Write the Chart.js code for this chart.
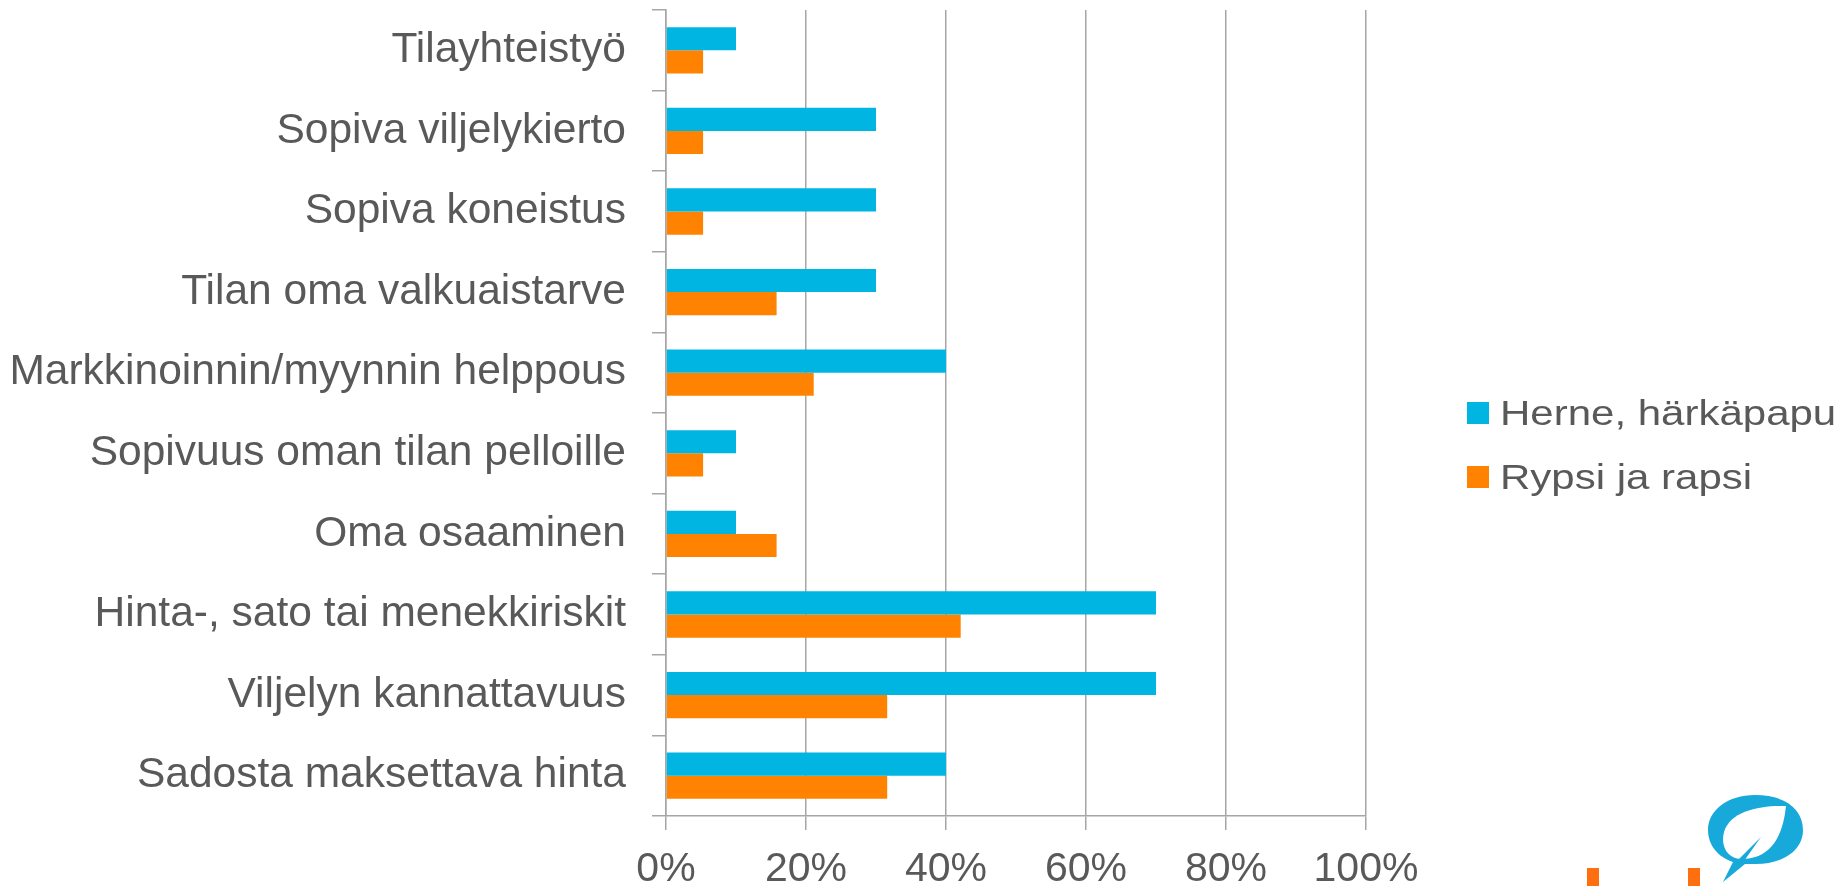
<!DOCTYPE html>
<html>
<head>
<meta charset="utf-8">
<script src="https://cdn.jsdelivr.net/npm/chart.js@4/dist/chart.umd.min.js"></script>
<style>
  html, body { margin: 0; padding: 0; background: #fff; }
  #wrap { position: relative; width: 1846px; height: 886px; overflow: hidden; }
  #logo { position: absolute; left: 0; top: 0; pointer-events: none; }
  #legend { position: absolute; left: 1467px; top: 393px; font-family: 'Liberation Sans', Arial, sans-serif; color: #595959; }
  #legend .item { height: 64px; white-space: nowrap; }
  #legend .sw { display: inline-block; width: 22px; height: 22px; vertical-align: top; margin-top: 9px; }
  #legend .tx { display: inline-block; font-size: 35px; line-height: 40px; margin-left: 11px; transform: scaleX(1.2); transform-origin: left center; vertical-align: top; }
</style>
</head>
<body>
<div id="wrap">
  <canvas id="chart-syyt" width="1846" height="886"></canvas>
  <div id="legend"></div>
  <svg id="logo" width="1846" height="886">
    <rect x="1587" y="868" width="12" height="18" fill="#FF6F0F"/>
    <rect x="1688" y="868" width="12" height="18" fill="#FF6F0F"/>
    <path d="M1755 795 C1785 795 1803 809 1803 830 C1803 851 1782 864 1756 864 L1745 864 L1723 882 L1733 862 C1718 857 1708 845 1708 830 C1708 810 1728 795 1755 795 Z" fill="#18A9DB"/>
    <path d="M1786 806 C1760 805 1730 811 1724 832 C1720 848 1729 859 1742 859 C1771 859 1783 836 1786 806 Z" fill="#fff"/>
    <path d="M1761 837 L1737 861 L1744 861 Z" fill="#18A9DB"/>
  </svg>
</div>
<script>
(function(){
  "use strict";

  var categories = [
    "Tilayhteistyö",
    "Sopiva viljelykierto",
    "Sopiva koneistus",
    "Tilan oma valkuaistarve",
    "Markkinoinnin/myynnin helppous",
    "Sopivuus oman tilan pelloille",
    "Oma osaaminen",
    "Hinta-, sato tai menekkiriskit",
    "Viljelyn kannattavuus",
    "Sadosta maksettava hinta"
  ];
  var herne = [10, 30, 30, 30, 40, 10, 10, 70, 70, 40];
  var rypsi = [5.3, 5.3, 5.3, 15.8, 21.1, 5.3, 15.8, 42.1, 31.6, 31.6];
  var xTicks = [0, 20, 40, 60, 80, 100];

  var textColor = "#595959";
  var gridColor = "#A6A6A6";

  Chart.defaults.font.family = "'Liberation Sans', Arial, sans-serif";
  Chart.defaults.color = textColor;

  var chart = new Chart(document.getElementById("chart-syyt"), {
    type: "bar",
    data: {
      labels: categories,
      datasets: [{
        label: "Herne, härkäpapu",
        data: herne,
        backgroundColor: "#00B5E2",
        categoryPercentage: 0.575,
        barPercentage: 1
      }, {
        label: "Rypsi ja rapsi",
        data: rypsi,
        backgroundColor: "#FF8300",
        categoryPercentage: 0.575,
        barPercentage: 1
      }]
    },
    options: {
      indexAxis: "y",
      responsive: false,
      animation: false,
      layout: { padding: { top: 10, right: 480, left: 0, bottom: 0 } },
      plugins: {
        tooltip: { enabled: false },
        legend: { display: false }
      },
      scales: {
        x: {
          min: 0, max: 100,
          afterBuildTicks: function(axis){
            axis.ticks = xTicks.map(function(v){ return { value: v }; });
          },
          afterFit: function(scale){ scale.height = 70; },
          ticks: {
            font: { size: 41 },
            color: textColor,
            padding: 15,
            callback: function(v){ return v + "%"; }
          },
          grid: { color: gridColor, lineWidth: 1.5, tickLength: 14 },
          border: { color: gridColor, width: 1.5 }
        },
        y: {
          afterFit: function(scale){
            scale.width = 666;
            scale.paddingTop = 0;
            scale.paddingBottom = 0;
          },
          ticks: { font: { size: 42.5 }, color: textColor, padding: 26 },
          grid: { drawOnChartArea: false, color: gridColor, lineWidth: 1.5, tickLength: 14, offset: true },
          border: { color: gridColor, width: 1.5 }
        }
      }
    }
  });

  // legend built from the chart's own datasets
  var leg = document.getElementById("legend");
  chart.data.datasets.forEach(function(ds){
    var row = document.createElement("div");
    row.className = "item";
    var sw = document.createElement("span");
    sw.className = "sw";
    sw.style.background = ds.backgroundColor;
    var tx = document.createElement("span");
    tx.className = "tx";
    tx.textContent = ds.label;
    row.appendChild(sw);
    row.appendChild(tx);
    leg.appendChild(row);
  });
})();
</script>
</body>
</html>
